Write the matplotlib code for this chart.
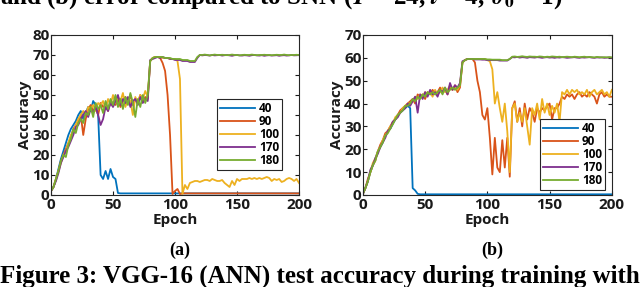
import numpy as np
import matplotlib.pyplot as plt

# ---- panel (a): accuracy per 2 epochs (0..200) ----
a_40 = [2, 4, 8, 13, 18, 22, 26, 30, 33, 35, 37, 40, 42, 38, 41, 44, 42, 47, 45, 40,
        10, 8, 12, 8, 13, 9, 8, 1] + [0.8] * 73
a_90 = [2, 4, 8, 12, 17, 20, 23, 26, 29, 33, 35, 37, 40, 30, 38, 43, 45, 42, 44, 40,
        46, 44, 45, 42, 47, 46, 45, 48, 44, 47, 49, 46, 50, 45, 48, 46, 50, 47, 49, 48,
        67, 68.5, 69, 69, 68.5, 66, 62, 50, 30, 0.5, 2, 3, 0.5] + [0.8] * 48
a_100 = [2, 4, 8, 12, 16, 20, 22, 26, 30, 32, 35, 38, 40, 42, 40, 44, 43, 45, 42, 46,
         45, 47, 43, 48, 45, 50, 46, 49, 47, 51, 44, 48, 47, 40, 49, 46, 50, 48, 52, 49,
         67, 68.5, 69, 69, 69, 68.5, 68.5, 68.5, 68, 68, 68,
         67, 58, 0.5, 5, 3, 6, 6.5, 7, 7, 6.5, 7, 7.5, 7.5, 7, 8, 7.5, 7, 7, 7.5, 6,
         5, 4, 7, 5, 8, 7, 8, 8, 8, 8.5, 8, 8.5, 8, 8.5, 8, 8.5, 9, 8.5, 7, 8,
         7.5, 8, 6.5, 7, 8, 8.5, 8, 7, 8, 6]
a_170 = [2, 4, 7, 11, 16, 19, 22, 24, 27, 30, 34, 35, 38, 40, 42, 39, 43, 41, 44, 40,
         35, 38, 44, 42, 46, 44, 47, 50, 45, 48, 46, 49, 44, 47, 48, 45, 49, 46, 48, 47,
         67.5, 68, 68.5, 69, 68.5, 69, 68.5, 68.5, 68, 68, 67.5, 67.5, 67.5, 67, 67, 67,
         66.5, 66.5, 66.5, 68.5,
         70, 69.8, 70, 69.9, 69.7, 70, 69.8, 69.9, 70, 69.7, 69.9, 70, 69.8, 69.6, 69.9,
         70, 69.8, 69.7, 69.9, 69.8, 69.6, 69.9, 70, 69.8, 69.7, 69.9, 69.6, 69.8, 69.9,
         69.7, 69.8, 69.9, 69.6, 69.8, 69.9, 69.7, 69.8, 70, 69.8, 69.9, 70]
a_180 = [2, 4, 8, 12, 17, 20, 19, 25, 28, 33, 31, 36, 38, 36, 41, 40, 44, 39, 46, 43,
         45, 41, 47, 43, 48, 45, 50, 44, 48, 43, 49, 45, 51, 46, 39, 48, 44, 50, 46, 50,
         67, 68.5, 69, 69, 69, 69, 68.5, 68.5, 68.5, 68, 68, 68, 68, 67.5, 67.5, 67.5,
         67, 67, 67, 69,
         70, 70, 70.2, 70, 69.8, 70, 70.2, 70, 70, 70.1, 70, 69.9, 70, 70.2, 70, 70,
         69.8, 70, 70.1, 70, 70, 70.2, 70, 69.9, 70, 70, 70.1, 70, 70, 69.9, 70, 70.1,
         70, 70, 70.2, 70, 69.9, 70, 70, 70.1, 70]

# ---- panel (b) ----
b_40 = [0.5, 3, 6, 10, 13, 16, 19, 21, 23, 26, 28, 29, 31, 33, 35, 36, 37, 38, 39, 38,
        3, 2, 0.5] + [0.3] * 78
b_90 = [0.5, 3, 7, 10, 13, 15, 19, 22, 24, 27, 28, 30, 32, 33, 35, 37, 38, 39, 40, 41,
        42, 40, 44, 43, 44, 42, 45, 44, 46, 44, 45, 47, 45, 46, 44, 47, 46, 48, 45, 47,
        58, 59, 59.5, 59.5, 59.5,
        58, 50, 45, 35, 33, 38, 25, 9, 25, 12, 10, 24, 12, 25, 8,
        38, 41, 32, 38, 30, 40, 33, 38, 36, 32, 38, 36, 38, 37, 39, 40, 33, 38, 38, 40,
        43, 42, 44, 43, 44, 42, 44, 45, 43, 44, 43, 45, 44, 43, 40, 44, 45, 43, 44, 43, 43]
b_100 = [0.5, 3, 6, 10, 14, 16, 19, 21, 24, 26, 28, 30, 31, 34, 35, 36, 38, 39, 40, 40,
         41, 43, 42, 44, 43, 45, 44, 45, 43, 46, 44, 45, 47, 45, 46, 48, 46, 47, 46, 48,
         58, 59, 59.5, 59.5, 59.5, 59.5, 59.5, 59.5, 59.5, 59.5, 59, 58.5,
         55, 40, 45, 38, 32, 40, 28, 10,
         38, 40, 32, 36, 32, 38, 30, 22, 38, 35, 40, 33, 42, 36, 40, 35, 39, 36, 40, 32,
         45, 44, 46, 44, 46, 45, 46, 44, 45, 44, 46, 43, 45, 46, 44, 45, 46, 44, 45, 43, 46]
b_170 = [0.5, 3, 6, 11, 13, 16, 18, 21, 23, 25, 28, 29, 32, 33, 34, 36, 37, 38, 40, 39,
         41, 43, 36, 44, 42, 45, 43, 46, 44, 45, 43, 46, 45, 47, 44, 49, 46, 48, 47, 49,
         58.5, 59, 59.5, 59.5, 59.5, 59.3, 59.3, 59.3, 59.2, 59.2, 59, 59, 59, 59, 59,
         58.8, 58.8, 58.8, 58.8, 59.5,
         60.3, 60.2, 60.4, 60.1, 60.3, 60.2, 60, 60.3, 60.2, 60.1, 60.3, 60.2, 60, 60.2,
         60.3, 60.1, 60.2, 60, 60.2, 60.1, 60.3, 60.2, 60, 60.1, 60.2, 60.3, 60.1, 60,
         60.2, 60.1, 60.2, 60.3, 60.1, 60, 60.2, 60.1, 60.2, 60, 60.1, 60.2, 60]
b_180 = [0.5, 3, 6, 10, 13, 15, 19, 21, 23, 26, 27, 29, 31, 33, 35, 36, 37, 39, 39, 40,
         42, 41, 43, 42, 44, 43, 45, 44, 45, 44, 45, 46, 44, 47, 45, 46, 47, 46, 47, 48,
         58, 59, 59.5, 59.5, 59.5, 59.5, 59.5, 59.5, 59.5, 59.5, 59.3, 59.3, 59.2, 59.2,
         59.2, 59.2, 59, 59, 59, 59.5,
         60.5, 60.6, 60.4, 60.5, 60.7, 60.5, 60.4, 60.6, 60.5, 60.5, 60.4, 60.6, 60.5,
         60.3, 60.5, 60.4, 60.6, 60.5, 60.4, 60.5, 60.3, 60.4, 60.5, 60.4, 60.3, 60.5,
         60.4, 60.3, 60.4, 60.5, 60.3, 60.4, 60.3, 60.2, 60.4, 60.3, 60.2, 60.3, 60.2,
         60.3, 60.2]

labels = ['40', '90', '100', '170', '180']
colors = ['#0072BD', '#D95319', '#EDB120', '#7E2F8E', '#77AC30']

plt.rcParams['font.family'] = 'Open Sans'
plt.rcParams['font.weight'] = 'bold'
plt.rcParams['mathtext.fontset'] = 'stix'

fig = plt.figure(figsize=(6.4, 2.87), dpi=100)
ax1 = fig.add_axes([0.0797, 0.3206, 0.3875, 0.5575])
ax2 = fig.add_axes([0.567, 0.3206, 0.389, 0.5575])


def draw(ax, series, ymax, anchor):
    for y, lab, c in zip(series, labels, colors):
        x = 2 * np.arange(len(y))
        ax.plot(x, y, color=c, lw=1.3, label=lab)
    ax.set_xlim(0, 200)
    ax.set_ylim(0, ymax)
    ax.set_xticks([0, 50, 100, 150, 200])
    ax.set_yticks(np.arange(0, ymax + 1, 10))
    ax.tick_params(direction='in', top=True, right=True, labelsize=11,
                   length=3, width=0.8, colors='#1a1a1a', pad=1)
    ax.tick_params(axis='x', pad=2)
    for s in ax.spines.values():
        s.set_color('#262626')
        s.set_linewidth(0.8)
    ax.set_xlabel('Epoch', fontsize=11, fontweight='bold', labelpad=1, color='#1a1a1a')
    ax.set_ylabel('Accuracy', fontsize=11, fontweight='bold', labelpad=0, color='#1a1a1a')
    leg = ax.legend(loc='lower right', bbox_to_anchor=anchor, fontsize=8.5,
                    handlelength=3.0, handletextpad=0.3, labelspacing=0.0,
                    borderpad=0.25, borderaxespad=0, fancybox=False, framealpha=1)
    leg.get_frame().set_edgecolor('#262626')
    leg.get_frame().set_linewidth(0.8)
    for t in leg.get_texts():
        t.set_fontweight('bold')


draw(ax1, [a_40, a_90, a_100, a_170, a_180], 80, (0.931, 0.156))
draw(ax2, [b_40, b_90, b_100, b_170, b_180], 70, (0.972, 0.031))

fig.text(0.281, 0.129, '(a)', ha='center', va='center', fontsize=13,
         family='Liberation Serif', fontweight='bold')
fig.text(0.769, 0.129, '(b)', ha='center', va='center', fontsize=13,
         family='Liberation Serif', fontweight='bold')
fig.text(0.5, 0.0139, 'Figure 3: VGG-16 (ANN) test accuracy during training with',
         ha='center', va='baseline', fontsize=18, family='Liberation Serif',
         fontweight='bold')
fig.text(0.0, 0.988, r'and (b) error compared to SNN ($T$ = 24, $t$ = 4, $\vartheta_0$ = 1)',
         ha='left', va='baseline', fontsize=18, family='Liberation Serif',
         fontweight='bold')

fig.savefig('out.png', dpi=100)
